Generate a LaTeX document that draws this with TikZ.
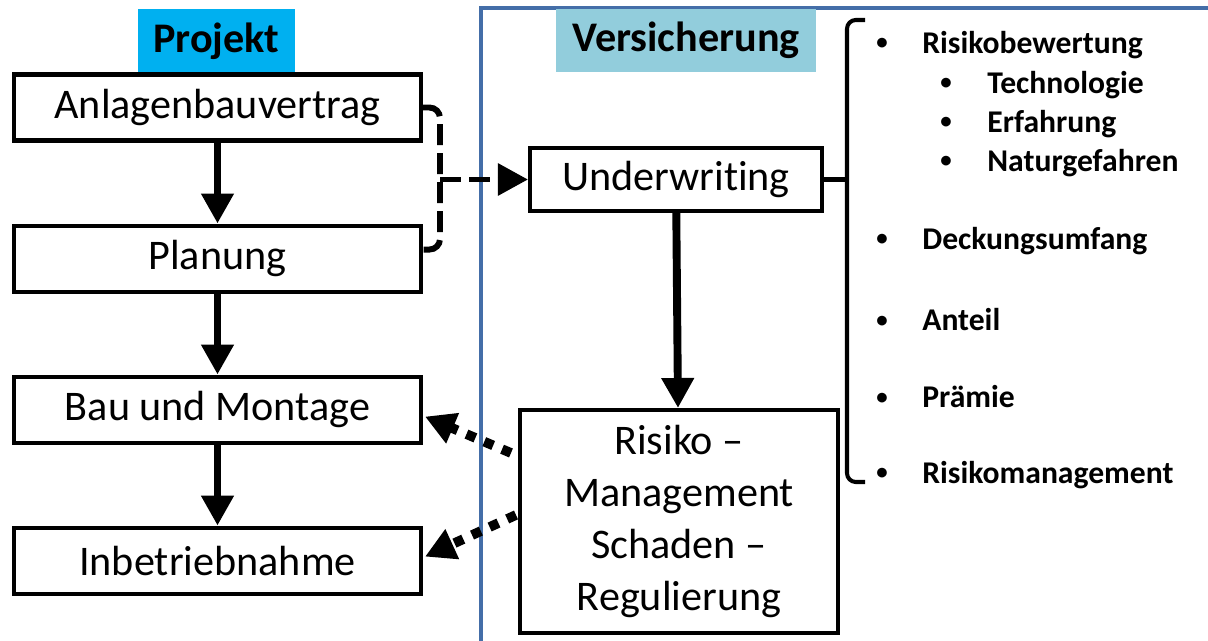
\documentclass[tikz,border=0pt]{standalone}
\usepackage{fontspec}
\setmainfont{Carlito}[Ligatures={NoCommon}]
\usetikzlibrary{positioning,arrows.meta}

\definecolor{projektblau}{RGB}{0,176,240}
\definecolor{versblau}{RGB}{146,205,220}
\definecolor{rahmen}{RGB}{68,110,168}

\newcommand{\punktchen}[1]{\makebox[#1][l]{\raisebox{2pt}{\fontsize{13}{13}\selectfont •}}}

\begin{document}
\begin{tikzpicture}[
    box/.style={draw, line width=2.3pt, minimum width=8.14cm, minimum height=1.32cm,
        font=\fontsize{24}{29.6}\selectfont},
    titel/.style={font=\fontsize{24}{29}\selectfont\bfseries, minimum height=1.26cm, inner sep=0pt},
    pfeil/.style={line width=4.5pt, -{Triangle[width=0.62cm,length=0.6cm]}},
    strich/.style={line width=3.4pt, dash pattern=on 12pt off 4.5pt},
    punkt/.style={line width=5.5pt, dash pattern=on 5.5pt off 5.5pt, -{Triangle[width=0.62cm,length=0.6cm]}},
    eintrag/.style={anchor=west, inner sep=0pt, font=\fontsize{18}{22}\selectfont\bfseries}
]

\useasboundingbox (0,0) rectangle (24.16,-12.82);

% Frame Versicherung
\draw[rahmen, line width=2.6pt] (9.62,-12.82) -- (9.62,-0.16) -- (24.16,-0.16);

% Titles
\node[titel, fill=projektblau, minimum width=3.14cm] (projekt) at (4.33,-0.82) {Projekt};
\node[titel, fill=versblau, minimum width=5.2cm] (vers) at (13.72,-0.81) {Versicherung};

% Project steps
\node[box] (avertrag) at (4.35,-2.15) {Anlagenbauvertrag};
\node[box, below=1.62cm of avertrag] (planung) {Planung};
\node[box, below=1.62cm of planung] (baumontage) {Bau und Montage};
\node[box, below=1.62cm of baumontage] (inbetrieb) {Inbetriebnahme};

\draw[pfeil] (avertrag) -- (planung);
\draw[pfeil] (planung) -- (baumontage);
\draw[pfeil] (baumontage) -- (inbetrieb);

% Insurance side
\node[box, minimum width=5.84cm, minimum height=1.26cm] (uw) at (13.52,-3.59) {Underwriting};
\node[box, minimum width=6.36cm, minimum height=4.46cm, align=center] (risiko) at (13.58,-10.43)
    {Risiko –\\Management\\Schaden –\\Regulierung};

\draw[pfeil] (uw) -- (risiko);

% Dashed bracket Vertrag/Planung -> Underwriting
\coordinate (knick) at (8.8,-3.59);
\draw[strich, rounded corners=6pt] (avertrag.east) -| (knick) |- ([yshift=0.18cm]planung.east);
\draw[strich, -{Triangle[width=0.62cm,length=0.6cm]}] (knick) -- (uw.west);

% Dotted arrows back to project
\draw[punkt] ([shift={(-0.14,-0.9)}]risiko.north west) -- ([shift={(0.04,-0.14)}]baumontage.east);
\draw[punkt] ([shift={(-0.04,-2.14)}]risiko.north west) -- ([shift={(0.04,0.08)}]inbetrieb.east);

% Brace
\coordinate (spange) at (16.94,-3.59);
\draw[line width=2.3pt, rounded corners=5pt] (17.3,-0.4) -- (16.94,-0.4) -- (16.94,-9.64) -- (17.3,-9.64);
\draw[line width=2.3pt] (uw.east) -- (spange);

% List
\node[eintrag] (bewertung) at (17.52,-0.9) {\punktchen{0.92cm}Risikobewertung};
\node[eintrag] (technologie) at (18.8,-1.7) {\punktchen{0.94cm}Technologie};
\node[eintrag] (erfahrung) at (18.8,-2.48) {\punktchen{0.94cm}Erfahrung};
\node[eintrag] (natur) at (18.8,-3.26) {\punktchen{0.94cm}Naturgefahren};
\node[eintrag] (deckung) at (17.52,-4.82) {\punktchen{0.92cm}Deckungsumfang};
\node[eintrag] (anteil) at (17.52,-6.4) {\punktchen{0.92cm}Anteil};
\node[eintrag] (praemie) at (17.52,-7.94) {\punktchen{0.92cm}Prämie};
\node[eintrag] (rmanagement) at (17.52,-9.5) {\punktchen{0.92cm}Risikomanagement};

\end{tikzpicture}
\end{document}
